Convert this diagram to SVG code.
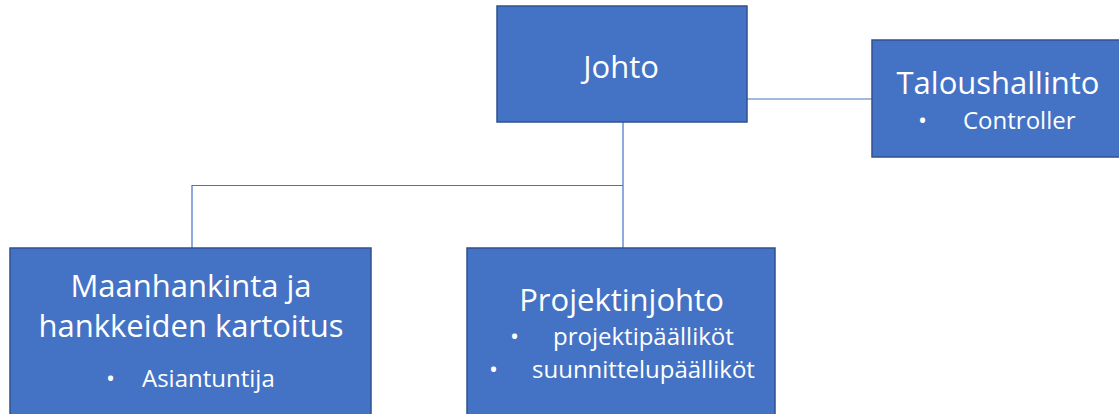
<svg xmlns="http://www.w3.org/2000/svg" width="1119" height="414" viewBox="0 0 1119 414">
  <style>
    .box { fill: #4472C4; stroke: #2F528F; stroke-width: 1.5; }
    .link { fill: none; stroke: #4472C4; stroke-width: 1.2; }
    .title { font-family: "Open Sans", "Noto Sans", sans-serif; font-size: 31px; fill: #ffffff; text-anchor: middle; }
    .item { font-family: "Open Sans", "Noto Sans", sans-serif; font-size: 24px; fill: #ffffff; }
  </style>
  <rect width="1119" height="414" fill="#ffffff"/>

  <!-- connectors -->
  <g id="connectors">
    <path class="link" d="M747 99 H872"/>
    <path class="link" d="M623 122 V248"/>
    <path class="link" d="M623 185.5 H192 V248"/>
  </g>

  <g id="johto">
    <rect class="box" x="497" y="6" width="250" height="116"/>
    <text class="title" x="621" y="78">Johto</text>
  </g>

  <g id="taloushallinto">
    <rect class="box" x="872" y="40" width="248" height="117"/>
    <text class="title" x="998" y="94">Taloushallinto</text>
    <text class="item" x="918" y="129">•</text>
    <text class="item" x="963" y="129">Controller</text>
  </g>

  <g id="maanhankinta">
    <rect class="box" x="10" y="248" width="361" height="170"/>
    <text class="title" x="191" y="297">Maanhankinta ja</text>
    <text class="title" x="191" y="337">hankkeiden kartoitus</text>
    <text class="item" x="106" y="387">•</text>
    <text class="item" x="142" y="387">Asiantuntija</text>
  </g>

  <g id="projektinjohto">
    <rect class="box" x="467" y="248" width="308" height="170"/>
    <text class="title" x="621.5" y="311">Projektinjohto</text>
    <text class="item" x="510" y="345">•</text>
    <text class="item" x="553" y="345">projektipäälliköt</text>
    <text class="item" x="489" y="378">•</text>
    <text class="item" x="532" y="378">suunnittelupäälliköt</text>
  </g>
</svg>
